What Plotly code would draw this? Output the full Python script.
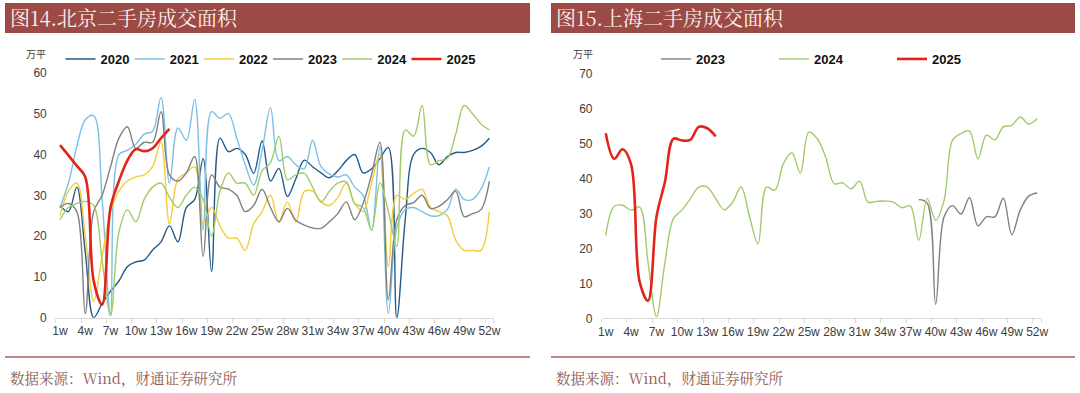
import plotly.graph_objects as go

weeks = list(range(1, 53))
tick_weeks = list(range(1, 53, 3))
tick_labels = [f"{w}w" for w in tick_weeks]

# 北京二手房成交面积 (万平)
bj_2020 = [27.5, 26, 32, 16, 0, 3.5, 6.5, 9, 12.5, 13.7, 14.1, 16.6, 18.6, 22.5, 18.6, 27, 29, 39, 11.3, 44,
           40.7, 41.5, 40, 35.4, 43.3, 33.5, 36.6, 29.7, 34, 38.6, 37, 35.5, 34.3, 36, 38.5, 40, 35.5, 36.5, 39, 41.7,
           0, 24, 40, 41.5, 40.5, 37.5, 39.5, 40.5, 40.5, 41, 42, 44]
bj_2021 = [27, 33, 42, 48.5, 49.5, 29, 1, 40, 41, 42.5, 45, 45.7, 54, 33, 46.5, 43.5, 53.5, 21.5, 50.5, 48.9,
           50, 44, 37.5, 32.5, 41, 51.5, 38.5, 39.5, 37.5, 36.5, 43.5, 37, 35.2, 34.5, 35, 32, 30, 21.5, 42, 1,
           22, 26.5, 27, 26, 25, 25, 26.5, 31.5, 29, 29, 31.5, 37]
bj_2022 = [25, 31, 33, 20, 4, 15, 26, 31, 33.5, 34.5, 35, 37, 43, 23, 34, 35.5, 37, 23, 27, 22.5,
           19.5, 19.5, 16.5, 23, 26, 30, 23.5, 28.4, 23.5, 30.9, 31, 28.4, 27.5, 29.5, 33, 28, 26, 33, 40, 12.5,
           30, 29, 30.5, 31.5, 27, 26, 25, 19, 16.5, 16.5, 16.5, 26]
bj_2023 = [27, 28, 26, 1, 26, 30, 37, 44, 46.8, 41.5, 43, 43, 50.5, 35, 33.5, 35.5, 39.5, 15, 35, 32,
           31.5, 30, 26, 27.5, 31.5, 27, 23.5, 26.8, 23.9, 22.7, 22, 21.9, 23.5, 25.5, 28.4, 24, 28, 35, 43, 4.4,
           24, 27.5, 28.2, 30, 26.8, 27.3, 28.9, 31, 24.8, 25.5, 26.5, 33.5]
bj_2024 = [24, 27, 28, 28.5, 27.5, 14, 0.5, 21, 26.5, 23.5, 29, 32, 33, 29.5, 27, 30, 32, 29, 20, 31,
           35.5, 33, 33, 30, 36, 38, 44.5, 33.8, 35, 35.4, 32, 28.4, 31, 33, 33.3, 28, 27, 21.5, 33, 26,
           17.5, 46, 44.5, 52, 37.5, 38.5, 39, 45, 52, 50, 47.5, 46]
bj_2025 = [42.3, 39.8, 37.2, 34.5, 9, 3.2, 27, 33.5, 38.5, 41.3, 40.8, 41.5, 44, 46.3]

# 上海二手房成交面积 (万平)
sh_2023 = [None] * 37 + [33.9, 32.9, 4, 29, 32.2, 29.8, 34.5, 26.4, 29, 29, 34.3, 23.9, 30.9, 34.9, 35.8]
sh_2024 = [23.7, 32, 32.3, 30.9, 31.8, 16, 0.5, 16, 28.5, 30.9, 34.2, 37.5, 37.5, 34.2, 31, 33.2, 37.5, 29, 21.3, 37.5,
           36.6, 44.2, 47.3, 41.5, 53.2, 51.3, 46.1, 38.5, 38.7, 37, 39.2, 33.2, 33.4, 33.5, 33.2, 31.6, 32.1, 22.3, 34.2, 28,
           33.7, 50.9, 52.8, 53.5, 45.6, 52.3, 51, 54.7, 55.1, 57.5, 55.5, 57]
sh_2025 = [52.9, 45.6, 48.3, 44, 10.5, 5, 29, 39, 51.3, 50.8, 51, 54.7, 54.3, 52]

W, H = 1080, 393


def px(x):
    return x / W


def py(y):
    return 1 - y / H


fig = go.Figure()

left_series = [
    ("2020", bj_2020, "#215A8C", 1.4),
    ("2021", bj_2021, "#7CC0E4", 1.4),
    ("2022", bj_2022, "#F3CD3A", 1.4),
    ("2023", bj_2023, "#808080", 1.4),
    ("2024", bj_2024, "#A2CB6B", 1.4),
    ("2025", bj_2025, "#E3231C", 2.6),
]
for name, vals, color, width in left_series:
    fig.add_trace(go.Scatter(
        x=weeks[:len(vals)], y=vals, name=name, mode="lines",
        line=dict(color=color, width=width, shape="spline", smoothing=1.0),
        xaxis="x", yaxis="y", legend="legend", hoverinfo="skip"))

right_series = [
    ("2023", sh_2023, "#808080", 1.4),
    ("2024", sh_2024, "#A2CB6B", 1.4),
    ("2025", sh_2025, "#E3231C", 2.6),
]
for name, vals, color, width in right_series:
    fig.add_trace(go.Scatter(
        x=weeks[:len(vals)], y=vals, name=name, mode="lines",
        line=dict(color=color, width=width, shape="spline", smoothing=1.0),
        xaxis="x2", yaxis="y2", legend="legend2", connectgaps=False, hoverinfo="skip"))

tickfont = dict(family="Liberation Sans, Arial, sans-serif", size=12, color="#404040")

xaxis_common = dict(
    range=[0.5, 52.5], tickmode="array", tickvals=tick_weeks, ticktext=tick_labels,
    showline=True, linecolor="#D9D9D9", linewidth=1, ticks="", showgrid=False, zeroline=False,
    tickfont=tickfont, fixedrange=True, ticklabelstandoff=2, automargin=False,
    minor=dict(tickmode="array", tickvals=[w - 0.5 for w in tick_weeks] + [52.5],
               ticks="outside", ticklen=4, tickcolor="#D9D9D9", tickwidth=1, showgrid=False),
)
yaxis_common = dict(showline=False, showgrid=False, zeroline=False, ticks="", tickfont=tickfont,
                    fixedrange=True, ticklabelstandoff=8, automargin=False)

legend_common = dict(orientation="h", xanchor="left", yanchor="middle", bgcolor="rgba(0,0,0,0)",
                     font=dict(family="Liberation Sans, Arial, sans-serif", size=13, color="#111111",
                               weight="bold"),
                     entrywidthmode="pixels", itemclick=False, itemdoubleclick=False,
                     traceorder="normal", borderwidth=0)

fig.update_layout(
    width=W, height=H, margin=dict(l=0, r=0, t=0, b=0, pad=0, autoexpand=False),
    paper_bgcolor="white", plot_bgcolor="white", showlegend=True,
    xaxis=dict(domain=[px(55.8), px(493.6)], anchor="y", **xaxis_common),
    yaxis=dict(domain=[py(317.7), py(72.9)], anchor="x", range=[0, 60], tickvals=list(range(0, 61, 10)),
               **yaxis_common),
    xaxis2=dict(domain=[px(601.5), px(1041.4)], anchor="y2", **xaxis_common),
    yaxis2=dict(domain=[py(318.3), py(73.3)], anchor="x2", range=[0, 70], tickvals=list(range(0, 71, 10)),
                **yaxis_common),
    legend=dict(x=px(60.5), y=py(59), entrywidth=24.2, **legend_common),
    legend2=dict(x=px(656), y=py(59), entrywidth=73, **legend_common),
)

bar_color = "#9B4A46"
title_font = dict(family="Noto Serif CJK SC, Noto Sans CJK SC, serif", size=20, color="#FBF1EC")
foot_font = dict(family="Noto Serif CJK SC, Noto Sans CJK SC, serif", size=14.5, color="#8E5B52")
unit_font = dict(family="Noto Sans CJK SC, sans-serif", size=10, color="#404040")

shapes = []
annotations = []
panels = [
    (5, 530, "图14.北京二手房成交面积", 36),
    (551, 1075, "图15.上海二手房成交面积", 583),
]
for x0, x1, title, unit_x in panels:
    shapes.append(dict(type="rect", xref="paper", yref="paper", x0=px(x0), x1=px(x1), y0=py(33), y1=py(3),
                       fillcolor=bar_color, line=dict(width=0), layer="below"))
    shapes.append(dict(type="line", xref="paper", yref="paper", x0=px(x0), x1=px(x1), y0=py(357), y1=py(357),
                       line=dict(color="#A9625A", width=1.5)))
    annotations.append(dict(xref="paper", yref="paper", x=px(x0 + 3), y=py(18), text=title, showarrow=False,
                            xanchor="left", yanchor="middle", font=title_font))
    annotations.append(dict(xref="paper", yref="paper", x=px(x0 + 3), y=py(377),
                            text="数据来源：Wind，财通证券研究所", showarrow=False,
                            xanchor="left", yanchor="middle", font=foot_font))
    annotations.append(dict(xref="paper", yref="paper", x=px(unit_x), y=py(53), text="万平", showarrow=False,
                            xanchor="center", yanchor="middle", font=unit_font))

fig.update_layout(shapes=shapes, annotations=annotations)

fig.write_html(
    "out.html",
    config={"displayModeBar": False, "staticPlot": False},
    post_script="document.body.style.margin='0px';document.body.style.padding='0px';"
                "document.body.style.overflow='hidden';",
)
